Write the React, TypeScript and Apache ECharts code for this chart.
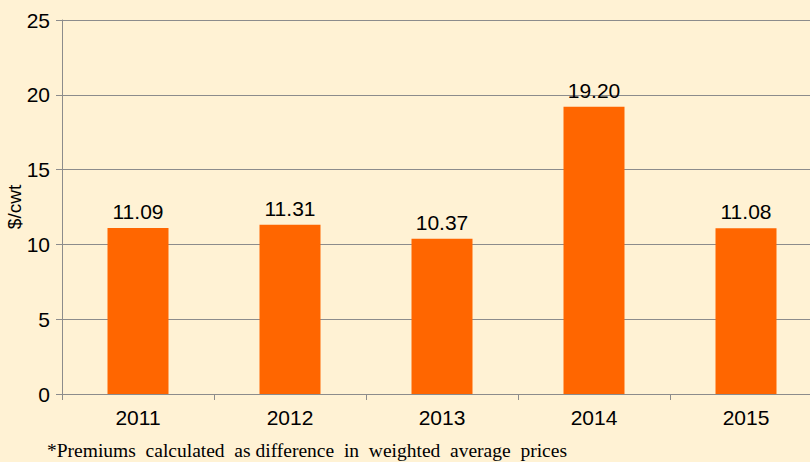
import React, { useEffect, useRef } from "react";
import * as echarts from "echarts";

const categories = ["2011", "2012", "2013", "2014", "2015"];
const premiums = [11.09, 11.31, 10.37, 19.2, 11.08];
const yTicks = [0, 5, 10, 15, 20, 25];
const footnote = "*Premiums  calculated  as difference  in  weighted  average  prices";

export default function App() {
  const ref = useRef<HTMLDivElement>(null);
  useEffect(() => {
    const chart = echarts.init(ref.current!, undefined, { renderer: "svg" });
    chart.setOption({
      animation: false,
      backgroundColor: "#FFF2D4",
      grid: { left: 62, right: 0, top: 20, bottom: 68, containLabel: false, outerBoundsMode: "none" },
      xAxis: {
        type: "category",
        data: categories,
        axisLine: { lineStyle: { color: "#8C8C8C", width: 1 } },
        axisTick: { show: true, length: 6, lineStyle: { color: "#8C8C8C" } },
        axisLabel: { color: "#000", fontSize: 21, fontFamily: "Liberation Sans", margin: 13 },
      },
      yAxis: {
        type: "value",
        min: yTicks[0],
        max: yTicks[yTicks.length - 1],
        interval: 5,
        name: "$/cwt",
        nameLocation: "middle",
        nameGap: 38,
        nameRotate: 90,
        nameMoveOverlap: false,
        nameTextStyle: { color: "#000", fontSize: 19, fontFamily: "Liberation Sans" },
        axisLine: { show: true, lineStyle: { color: "#8C8C8C", width: 1 } },
        axisTick: { show: true, length: 6, lineStyle: { color: "#8C8C8C" } },
        axisLabel: { color: "#000", fontSize: 21, fontFamily: "Liberation Sans", margin: 12 },
        splitLine: { show: true, lineStyle: { color: "#8C8C8C", width: 1 } },
      },
      series: [
        {
          type: "bar",
          data: premiums,
          barWidth: 61,
          itemStyle: { color: "#FF6600" },
          label: {
            show: true,
            position: "top",
            distance: 6,
            color: "#000",
            fontSize: 21,
            fontFamily: "Liberation Sans",
            formatter: (p: any) => Number(p.value).toFixed(2),
          },
        },
      ],
      graphic: [
        {
          type: "text",
          left: 47,
          top: 440,
          style: {
            text: footnote,
            fill: "#000",
            font: "19.5px 'Liberation Serif'",
          },
        },
      ],
    });
    return () => chart.dispose();
  }, []);
  return (
    <div style={{ position: "absolute", left: 0, top: 0, width: 810, height: 462, overflow: "hidden" }}>
      <div ref={ref} style={{ width: 822, height: 462 }} />
    </div>
  );
}
